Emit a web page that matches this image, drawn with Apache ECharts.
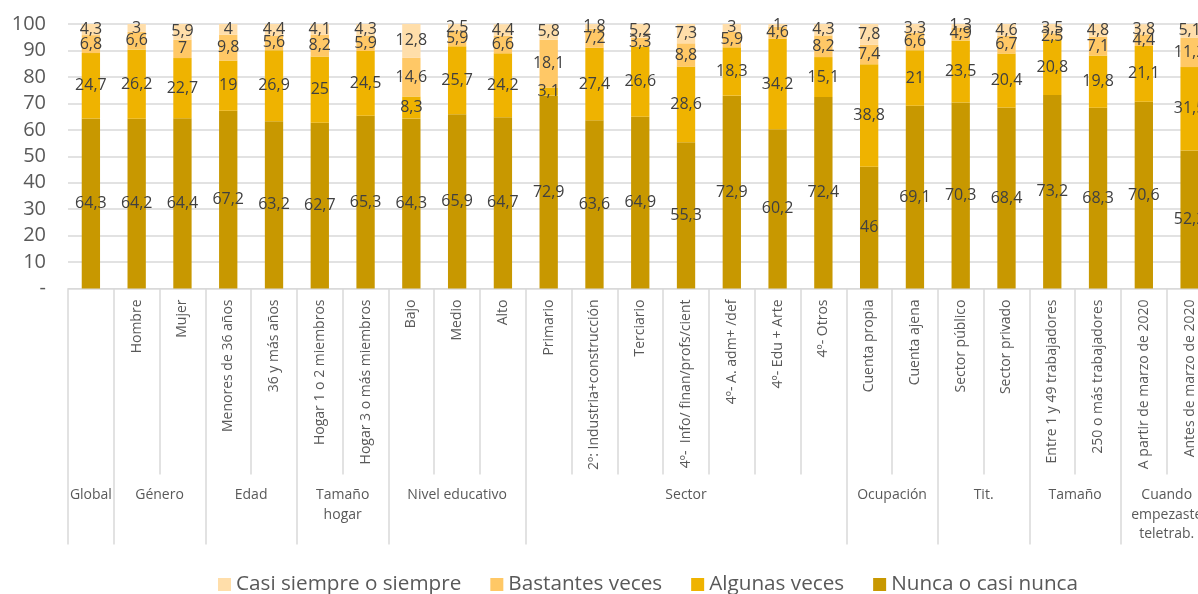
<!DOCTYPE html>
<html>
<head>
<meta charset="utf-8">
<script src="https://cdn.jsdelivr.net/npm/echarts@6/dist/echarts.min.js"></script>
<style>
html,body{margin:0;padding:0;background:#fff;overflow:hidden;}
#chart{width:1198px;height:594px;}
</style>
</head>
<body>
<div id="chart"></div>
<script>
var categories = ['Global','Hombre','Mujer','Menores de 36 años','36 y más años','Hogar 1 o 2 miembros','Hogar 3 o más miembros','Bajo','Medio','Alto','Primario','2º: Industria+construcción','Terciario','4º-  Info/ finan/profs/cient','4º- A. adm+ /def','4º- Edu + Arte','4º- Otros','Cuenta propia','Cuenta ajena','Sector público','Sector privado','Entre 1 y 49 trabajadores','250 o más trabajadores','A partir de marzo de 2020','Antes de marzo de 2020'];
var nunca      = [64.3,64.2,64.4,67.2,63.2,62.7,65.3,64.3,65.9,64.7,72.9,63.6,64.9,55.3,72.9,60.2,72.4,46,69.1,70.3,68.4,73.2,68.3,70.6,52.2];
var algunas    = [24.7,26.2,22.7,19,26.9,25,24.5,8.3,25.7,24.2,3.1,27.4,26.6,28.6,18.3,34.2,15.1,38.8,21,23.5,20.4,20.8,19.8,21.1,31.5];
var bastantes  = [6.8,6.6,7,9.8,5.6,8.2,5.9,14.6,5.9,6.6,18.1,7.2,3.3,8.8,5.9,4.6,8.2,7.4,6.6,4.9,6.7,2.5,7.1,4.4,11.2];
var casiSiempre= [4.3,3,5.9,4,4.4,4.1,4.3,12.8,2.5,4.4,5.8,1.8,5.2,7.3,3,1,4.3,7.8,3.3,1.3,4.6,3.5,4.8,3.8,5.1];
var groupLabels = ['Global','Género','Edad','Tamaño\nhogar','Nivel educativo','Sector','Ocupación','Tit.','Tamaño','Cuando\nempezaste\nteletrab.'];
var groupSpans  = [[0,0],[1,2],[3,4],[5,6],[7,9],[10,16],[17,18],[19,20],[21,22],[23,24]];
var seriesNames = ['Nunca o casi nunca','Algunas veces','Bastantes veces','Casi siempre o siempre'];
var yTicks = [0,10,20,30,40,50,60,70,80,90,100];

var colors = ['#C89800','#EFB300','#FFC866','#FFDEAA'];
var FONT = '"Open Sans", sans-serif';

var n = categories.length;
var half = [];
for (var j = 0; j <= 2 * n; j++) half.push('');
var boundarySet = {};
groupSpans.forEach(function (s, i) {
  half[s[0] + s[1] + 1] = groupLabels[i];
  boundarySet[2 * s[0]] = true;
  boundarySet[2 * (s[1] + 1)] = true;
});

function fmt(v) { return String(v).replace('.', ','); }

var chart = echarts.init(document.getElementById('chart'));
var dataSets = [nunca, algunas, bastantes, casiSiempre];
var series = dataSets.map(function (d, i) {
  return {
    name: seriesNames[i],
    type: 'bar',
    stack: 'total',
    barWidth: '40%',
    xAxisIndex: 0,
    data: d,
    itemStyle: { color: colors[i] },
    label: {
      show: true,
      position: 'inside',
      color: '#404040',
      fontFamily: FONT,
      fontSize: 16,
      formatter: function (p) { return fmt(p.value); }
    }
  };
});

chart.setOption({
  animation: false,
  textStyle: { fontFamily: FONT },
  grid: { left: 68, width: 1144.5, top: 24, height: 264.5, containLabel: false, outerBoundsMode: 'none' },
  legend: {
    data: ['Casi siempre o siempre','Bastantes veces','Algunas veces','Nunca o casi nunca'],
    left: 218, top: 574, padding: 0,
    icon: 'rect', itemWidth: 13, itemHeight: 13, itemGap: 29,
    textStyle: { fontFamily: FONT, fontSize: 20.7, color: '#595959' }
  },
  xAxis: [{
    type: 'category',
    data: categories,
    position: 'bottom',
    axisLine: { show: true, lineStyle: { color: '#D9D9D9', width: 1 } },
    axisTick: { show: true, interval: 0, length: 186, lineStyle: { color: '#D9D9D9', width: 1.5 } },
    axisLabel: {
      interval: 0, rotate: 90, margin: 11,
      fontFamily: FONT, fontSize: 14, color: '#595959',
      formatter: function (v, i) { return i === 0 ? '' : v; }
    },
    splitLine: { show: false }
  }, {
    type: 'category',
    data: half,
    boundaryGap: false,
    position: 'bottom',
    axisLine: { show: false },
    axisTick: {
      show: true, length: 256,
      interval: function (idx) { return !!boundarySet[idx]; },
      lineStyle: { color: '#D9D9D9', width: 1.5 }
    },
    axisLabel: {
      interval: 0, margin: 197,
      fontFamily: FONT, fontSize: 14, color: '#595959',
      lineHeight: 19.5, align: 'center', verticalAlign: 'top'
    },
    splitLine: { show: false }
  }],
  yAxis: {
    type: 'value',
    min: yTicks[0], max: yTicks[yTicks.length - 1], interval: 10,
    axisLine: { show: false },
    axisTick: { show: false },
    splitLine: { lineStyle: { color: '#D9D9D9', width: 1.5 } },
    axisLabel: {
      margin: 22, fontFamily: FONT, fontSize: 20, color: '#595959',
      formatter: function (v) { return v === 0 ? '-' : String(v); }
    }
  },
  series: series
});
</script>
</body>
</html>
